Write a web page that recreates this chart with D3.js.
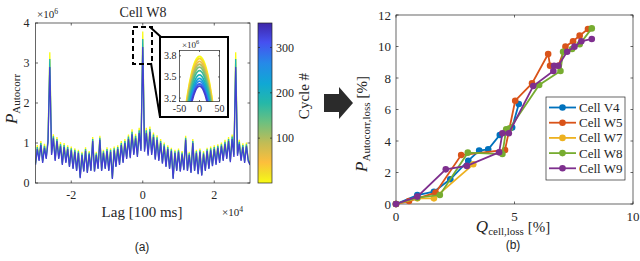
<!DOCTYPE html>
<html>
<head>
<meta charset="utf-8">
<style>
  body { margin: 0; background: #fff; }
  svg text { font-family: "Liberation Serif", "DejaVu Serif", serif; fill: #262626; }
  svg text.sans { font-family: "Liberation Sans", Arial, sans-serif; }
</style>
</head>
<body>
<svg id="fig" width="640" height="261"></svg>
<script src="https://d3js.org/d3.v7.min.js"></script>
<script>

// ---------- panel (a): autocorrelation of cell W8 (values x1e6) ----------
const lags = d3.range(-30000, 30001, 500)   // lag grid [100 ms]
const mainCycles = [1, 190, 330]
const autocorrC1 = [
  0.50,0.95,0.60,1.05,0.55,0.98,0.66,1.12,3.27,0.76,
  1.22,0.60,1.15,0.66,1.02,0.50,1.00,0.55,0.94,0.44,
  0.91,0.39,0.87,0.34,0.83,0.15,0.78,0.31,0.89,0.28,
  0.80,0.34,1.15,0.31,0.78,0.39,1.18,0.34,0.83,0.39,
  0.89,0.34,0.87,0.13,0.91,0.44,0.94,0.50,1.05,0.55,
  1.10,0.66,1.21,0.68,1.34,0.77,1.23,0.72,1.38,0.88,
  3.79,
  0.86,1.38,0.75,1.41,0.77,1.26,0.64,1.19,0.60,1.10,
  0.53,1.01,0.44,0.94,0.39,0.88,0.13,0.83,0.34,0.86,
  0.31,0.80,0.36,1.18,0.34,0.78,0.28,1.10,0.34,0.83,
  0.25,0.86,0.21,0.80,0.34,0.88,0.39,0.91,0.47,0.94,
  0.50,0.97,0.55,1.01,0.60,1.08,0.66,1.15,0.57,1.21,
  0.72,3.27,0.75,1.08,0.60,0.99,0.55,1.01,0.60,0.50
]
const autocorrC190 = [
  0.48,0.90,0.58,1.00,0.53,0.93,0.63,1.07,3.10,0.73,
  1.17,0.58,1.10,0.63,0.97,0.48,0.95,0.53,0.90,0.42,
  0.87,0.37,0.83,0.32,0.79,0.14,0.74,0.30,0.85,0.27,
  0.76,0.32,1.10,0.30,0.74,0.37,1.13,0.32,0.79,0.37,
  0.85,0.32,0.83,0.12,0.87,0.42,0.90,0.48,1.00,0.53,
  1.05,0.63,1.16,0.65,1.28,0.74,1.18,0.69,1.32,0.84,
  3.60,
  0.82,1.32,0.72,1.35,0.74,1.21,0.61,1.14,0.58,1.05,
  0.51,0.97,0.42,0.90,0.37,0.84,0.12,0.79,0.32,0.82,
  0.30,0.76,0.34,1.13,0.32,0.74,0.27,1.05,0.32,0.79,
  0.23,0.82,0.20,0.76,0.32,0.84,0.37,0.87,0.44,0.90,
  0.48,0.93,0.53,0.97,0.58,1.03,0.63,1.10,0.55,1.16,
  0.69,3.10,0.72,1.03,0.58,0.95,0.53,0.97,0.58,0.48
]
const autocorrC330 = [
  0.45,0.85,0.55,0.95,0.50,0.88,0.60,1.02,2.90,0.70,
  1.12,0.55,1.05,0.60,0.92,0.45,0.90,0.50,0.85,0.40,
  0.82,0.35,0.78,0.30,0.75,0.12,0.70,0.28,0.80,0.25,
  0.72,0.30,1.05,0.28,0.70,0.35,1.08,0.30,0.75,0.35,
  0.80,0.30,0.78,0.10,0.82,0.40,0.85,0.45,0.95,0.50,
  1.00,0.60,1.10,0.62,1.22,0.70,1.12,0.65,1.25,0.80,
  3.40,
  0.78,1.25,0.68,1.28,0.70,1.15,0.58,1.08,0.55,1.00,
  0.48,0.92,0.40,0.85,0.35,0.80,0.10,0.75,0.30,0.78,
  0.28,0.72,0.32,1.08,0.30,0.70,0.25,1.00,0.30,0.75,
  0.22,0.78,0.18,0.72,0.30,0.80,0.35,0.82,0.42,0.85,
  0.45,0.88,0.50,0.92,0.55,0.98,0.60,1.05,0.52,1.10,
  0.65,2.90,0.68,0.98,0.55,0.90,0.50,0.92,0.55,0.45
]
const mainSeries = [autocorrC1, autocorrC190, autocorrC330]

// inset: zoom round lag 0
const insetLags = [-40, -30, -20, -10, 0, 10, 20, 30, 40]
const insetCycles = [1, 30, 60, 95, 125, 160, 190, 225, 260, 295, 330]
const insetCurves = [
  [2.83,3.25,3.55,3.73,3.79,3.73,3.55,3.25,2.83],
  [2.80,3.22,3.52,3.70,3.76,3.70,3.52,3.22,2.80],
  [2.76,3.18,3.48,3.66,3.72,3.66,3.48,3.18,2.76],
  [2.72,3.14,3.44,3.62,3.68,3.62,3.44,3.14,2.72],
  [2.68,3.10,3.40,3.58,3.64,3.58,3.40,3.10,2.68],
  [2.63,3.05,3.35,3.53,3.59,3.53,3.35,3.05,2.63],
  [2.57,2.99,3.29,3.47,3.53,3.47,3.29,2.99,2.57],
  [2.52,2.94,3.24,3.42,3.48,3.42,3.24,2.94,2.52],
  [2.48,2.90,3.20,3.38,3.44,3.38,3.20,2.90,2.48],
  [2.44,2.86,3.16,3.34,3.40,3.34,3.16,2.86,2.44],
  [2.41,2.83,3.13,3.31,3.37,3.31,3.13,2.83,2.41]
]
const colorbarTicks = [100, 200, 300]

// ---------- panel (b): loss comparison ----------
const cells = ['Cell V4', 'Cell W5', 'Cell W7', 'Cell W8', 'Cell W9']
const cellColors = ['#0072BD', '#D95319', '#EDB120', '#77AC30', '#7E2F8E']
const qV4 = [0, 0.9, 1.6, 2.29, 3.05, 3.51, 3.89, 4.38, 4.9, 5.18]
const pV4 = [0, 0.57, 0.78, 1.57, 2.75, 3.39, 3.47, 4.38, 4.85, 6.35]
const qW5 = [0, 0.55, 1.67, 2.75, 4.6, 5.03, 5.74, 6.42, 6.5, 6.85, 7.15, 7.47, 7.75, 8.1]
const pW5 = [0, 0.19, 0.72, 3.11, 3.43, 6.56, 7.66, 9.52, 8.78, 8.78, 9.99, 10.33, 10.69, 11.11]
const qW7 = [0, 0.9, 1.6, 3.26]
const pW7 = [0, 0.36, 0.36, 2.52]
const qW8 = [0, 0.9, 1.85, 3.03, 4.49, 4.65, 4.8, 6.04, 6.94, 7.05, 7.43, 7.75, 8.26]
const pW8 = [0, 0.4, 0.57, 3.26, 3.17, 4.75, 4.8, 7.56, 8.44, 9.67, 9.84, 10.14, 11.15]
const qW9 = [0, 0.9, 2.1, 2.99, 4.35, 4.49, 4.76, 5.79, 6.64, 6.67, 6.85, 7.22, 7.53, 7.82, 8.26]
const pW9 = [0, 0.47, 2.2, 2.42, 3.28, 4.49, 4.49, 7.49, 8.44, 8.78, 8.78, 9.67, 9.99, 10.33, 10.48]
const cellQ = [qV4, qW5, qW7, qW8, qW9]
const cellP = [pV4, pW5, pW7, pW8, pW9]

// parula, run backwards so cycle 1 is yellow
const parulaPos = [0, 0.12, 0.25, 0.38, 0.5, 0.62, 0.75, 0.87, 0.94, 1]
const parulaHex = ['#3E26A8', '#4650F0', '#2689E8', '#10A8D4', '#25B8A8', '#6CC080', '#C2BC55', '#FDBE3C', '#F3DF28', '#F9FB15']
const parula = d3.scaleLinear().domain(parulaPos).range(parulaHex).interpolate(d3.interpolateRgb)
const cycleT = d3.scaleLinear().domain([1, 354]).range([1, 0])
const cycleColor = c => parula(cycleT(c))

const ink = '#262626'
const svg = d3.select('#fig')

function translate(x, y) { return 'translate(' + x + ',' + y + ')' }

// box with inward ticks on all four sides
function frame(g, x, y, xt, yt, tick) {
  const [x0, x1] = x.range(), [y0, y1] = y.range()
  g.append('rect').attr('x', x0).attr('y', y1).attr('width', x1 - x0).attr('height', y0 - y1)
    .attr('fill', 'none').attr('stroke', ink).attr('stroke-width', 0.7)
  xt.forEach(v => {
    g.append('line').attr('x1', x(v)).attr('x2', x(v)).attr('y1', y0).attr('y2', y0 - tick).attr('stroke', ink).attr('stroke-width', 0.7)
    g.append('line').attr('x1', x(v)).attr('x2', x(v)).attr('y1', y1).attr('y2', y1 + tick).attr('stroke', ink).attr('stroke-width', 0.7)
  })
  yt.forEach(v => {
    g.append('line').attr('y1', y(v)).attr('y2', y(v)).attr('x1', x0).attr('x2', x0 + tick).attr('stroke', ink).attr('stroke-width', 0.7)
    g.append('line').attr('y1', y(v)).attr('y2', y(v)).attr('x1', x1).attr('x2', x1 - tick).attr('stroke', ink).attr('stroke-width', 0.7)
  })
}

function tickLabels(g, x, y, xt, yt, xf, yf, size, xOff, yOff) {
  g.selectAll(null).data(xt).enter().append('text')
    .attr('x', d => x(d)).attr('y', y.range()[0] + xOff)
    .attr('text-anchor', 'middle').attr('font-size', size).text(xf)
  g.selectAll(null).data(yt).enter().append('text')
    .attr('x', x.range()[0] - yOff).attr('y', d => y(d)).attr('dy', '0.35em')
    .attr('text-anchor', 'end').attr('font-size', size).text(yf)
}

function exponent(g, x, y, p, size) {
  const t = g.append('text').attr('x', x).attr('y', y).attr('font-size', size)
  t.append('tspan').text('×10')
  t.append('tspan').attr('font-size', size * 0.7).attr('dy', -size * 0.4).text(p)
}

// ---------- draw (a) ----------
const xA = d3.scaleLinear().domain([-30000, 30000]).range([35.5, 250])
const yA = d3.scaleLinear().domain([0, 4]).range([183, 23])
const ga = svg.append('g')

ga.append('clipPath').attr('id', 'clipA').append('rect')
  .attr('x', 35.5).attr('y', 23).attr('width', 214.5).attr('height', 160)
const lineA = d3.line().x((d, i) => xA(lags[i])).y(d => yA(d))
ga.append('g').attr('clip-path', 'url(#clipA)')
  .selectAll('path').data(mainSeries).enter().append('path')
  .attr('d', lineA).attr('fill', 'none')
  .attr('stroke', (d, i) => cycleColor(mainCycles[i]))
  .attr('stroke-width', 1.3)

frame(ga, xA, yA, [-20000, 0, 20000], [0, 1, 2, 3, 4], 2.5)
tickLabels(ga, xA, yA, [-20000, 0, 20000], [0, 1, 2, 3, 4], d => d / 1e4, d => d, 12, 16, 6)
exponent(ga, 37, 18, '6', 11)
exponent(ga, 222, 216, '4', 11)

ga.append('text').attr('x', 143).attr('y', 17).attr('text-anchor', 'middle').attr('font-size', 14).text('Cell W8')
ga.append('text').attr('x', 142).attr('y', 217).attr('text-anchor', 'middle').attr('font-size', 15).text('Lag [100 ms]')
const ylA = ga.append('text').attr('transform', translate(17, 99) + ' rotate(-90)').attr('text-anchor', 'middle')
ylA.append('tspan').attr('font-size', 17).attr('font-style', 'italic').text('P')
ylA.append('tspan').attr('font-size', 11).attr('dy', 3).text('Autocorr')
ga.append('text').attr('class', 'sans').attr('x', 142).attr('y', 251).attr('text-anchor', 'middle').attr('font-size', 12).text('(a)')

// zoom marker and connectors
ga.append('rect').attr('x', 133).attr('y', 27).attr('width', 19).attr('height', 37)
  .attr('fill', 'none').attr('stroke', '#000').attr('stroke-width', 2).attr('stroke-dasharray', '5,3')
ga.append('line').attr('x1', 150).attr('y1', 27).attr('x2', 161).attr('y2', 37).attr('stroke', '#000').attr('stroke-width', 2)
ga.append('line').attr('x1', 151).attr('y1', 63).attr('x2', 160).attr('y2', 117).attr('stroke', '#000').attr('stroke-width', 2)
ga.append('rect').attr('x', 160).attr('y', 37).attr('width', 68).attr('height', 80)
  .attr('fill', '#fff').attr('stroke', '#000').attr('stroke-width', 2)

// inset
const xI = d3.scaleLinear().domain([-50, 50]).range([179.5, 219.5])
const yI = d3.scaleLinear().domain([3.152, 3.875]).range([101.5, 50.5])
ga.append('clipPath').attr('id', 'clipI').append('rect')
  .attr('x', 179.5).attr('y', 50.5).attr('width', 40).attr('height', 51)
const lineI = d3.line().x((d, i) => xI(insetLags[i])).y(d => yI(d)).curve(d3.curveNatural)
ga.append('g').attr('clip-path', 'url(#clipI)')
  .selectAll('path').data(insetCurves).enter().append('path')
  .attr('d', lineI).attr('fill', 'none')
  .attr('stroke', (d, i) => cycleColor(insetCycles[i]))
  .attr('stroke-width', 1.8)
frame(ga, xI, yI, [-50, 0, 50], [3.2, 3.5, 3.8], 1.5)
tickLabels(ga, xI, yI, [-50, 0, 50], [3.2, 3.5, 3.8], d => d, d => d.toFixed(1), 10, 10, 3)
exponent(ga, 182, 48, '6', 9)

// colorbar
const yC = d3.scaleLinear().domain([1, 354]).range([183, 23])
const grad = svg.append('defs').append('linearGradient').attr('id', 'parula')
  .attr('x1', 0).attr('y1', 0).attr('x2', 0).attr('y2', 1)
grad.selectAll('stop').data(parulaPos).enter().append('stop')
  .attr('offset', d => d).attr('stop-color', (d, i) => parulaHex[i])
ga.append('rect').attr('x', 258).attr('y', 23).attr('width', 14).attr('height', 160)
  .attr('fill', 'url(#parula)').attr('stroke', ink).attr('stroke-width', 0.7)
colorbarTicks.forEach(c => {
  ga.append('line').attr('x1', 270).attr('x2', 272).attr('y1', yC(c)).attr('y2', yC(c)).attr('stroke', ink).attr('stroke-width', 0.7)
  ga.append('line').attr('x1', 258).attr('x2', 260).attr('y1', yC(c)).attr('y2', yC(c)).attr('stroke', ink).attr('stroke-width', 0.7)
  ga.append('text').attr('x', 276).attr('y', yC(c)).attr('dy', '0.35em').attr('font-size', 12).text(c)
})
ga.append('text').attr('transform', translate(309, 96) + ' rotate(-90)').attr('text-anchor', 'middle')
  .attr('font-size', 15).text('Cycle #')

// arrow between panels
svg.append('path').attr('d', 'M324,94 L339,94 L339,87 L353,103 L339,119 L339,112 L324,112 Z').attr('fill', '#2b2b2b')

// ---------- draw (b) ----------
const xB = d3.scaleLinear().domain([0, 10]).range([396, 633])
const yB = d3.scaleLinear().domain([0, 12]).range([204, 15])
const gb = svg.append('g')

frame(gb, xB, yB, [0, 5, 10], [0, 2, 4, 6, 8, 10, 12], 2.5)
tickLabels(gb, xB, yB, [0, 5, 10], [0, 2, 4, 6, 8, 10, 12], d => d, d => d, 13, 17, 5)

const lineB = d3.line().x(d => xB(d[0])).y(d => yB(d[1]))
cells.forEach((name, k) => {
  const pts = cellQ[k].map((q, i) => [q, cellP[k][i]])
  const s = gb.append('g')
  s.append('path').datum(pts).attr('d', lineB).attr('fill', 'none')
    .attr('stroke', cellColors[k]).attr('stroke-width', 1.8)
  s.selectAll('circle').data(pts).enter().append('circle')
    .attr('cx', d => xB(d[0])).attr('cy', d => yB(d[1])).attr('r', 3.3)
    .attr('fill', cellColors[k])
})

// legend
const lg = gb.append('g')
lg.append('rect').attr('x', 546).attr('y', 97).attr('width', 79).attr('height', 83)
  .attr('fill', '#fff').attr('stroke', ink).attr('stroke-width', 0.7)
cells.forEach((name, k) => {
  const y = 107.5 + k * 15.2
  lg.append('line').attr('x1', 549).attr('x2', 576).attr('y1', y).attr('y2', y)
    .attr('stroke', cellColors[k]).attr('stroke-width', 1.8)
  lg.append('circle').attr('cx', 562.5).attr('cy', y).attr('r', 3.3).attr('fill', cellColors[k])
  lg.append('text').attr('x', 579).attr('y', y).attr('dy', '0.35em').attr('font-size', 13).text(name)
})

const xlB = gb.append('text').attr('x', 513).attr('y', 232).attr('text-anchor', 'middle')
xlB.append('tspan').attr('font-size', 17).attr('font-style', 'italic').text('Q')
xlB.append('tspan').attr('font-size', 11).attr('dy', 3).text('cell,loss')
xlB.append('tspan').attr('font-size', 15).attr('dy', -3).text(' [%]')

const ylB = gb.append('text').attr('transform', translate(367, 124) + ' rotate(-90)').attr('text-anchor', 'middle')
ylB.append('tspan').attr('font-size', 17).attr('font-style', 'italic').text('P')
ylB.append('tspan').attr('font-size', 11).attr('dy', 3).text('Autocorr,loss')
ylB.append('tspan').attr('font-size', 15).attr('dy', -3).text(' [%]')

gb.append('text').attr('class', 'sans').attr('x', 513).attr('y', 249).attr('text-anchor', 'middle').attr('font-size', 12).text('(b)')

</script>
</body>
</html>
